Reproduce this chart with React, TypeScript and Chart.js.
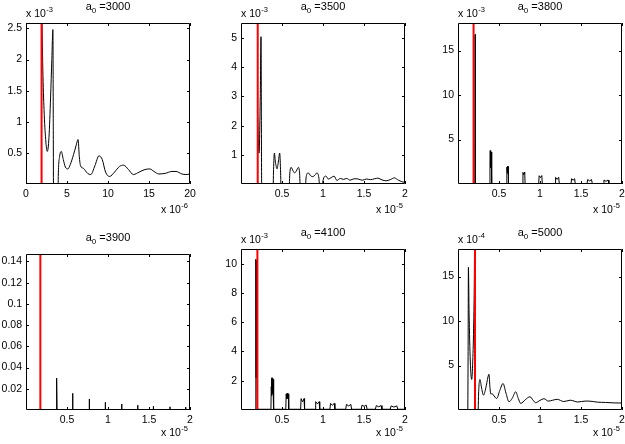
import React, { useEffect, useRef } from "react";
import { Chart, registerables } from "chart.js";

Chart.register(...registerables);

const FONT = "'Liberation Sans', Arial, Helvetica, sans-serif";
const W = 625;
const H = 444;

// ---------- tick values / labels ----------
const xTicks20 = [0, 5, 10, 15, 20];
const xLabels20 = ["0", "5", "10", "15", "20"];
const xTicks2 = [0.5, 1, 1.5, 2];
const xLabels2 = ["0.5", "1", "1.5", "2"];

const p1YTicks = [0.5, 1, 1.5, 2, 2.5];
const p1YLabels = ["0.5", "1", "1.5", "2", "2.5"];
const p2YTicks = [1, 2, 3, 4, 5];
const p2YLabels = ["1", "2", "3", "4", "5"];
const p3YTicks = [5, 10, 15];
const p3YLabels = ["5", "10", "15"];
const p4YTicks = [0.02, 0.04, 0.06, 0.08, 0.1, 0.12, 0.14];
const p4YLabels = ["0.02", "0.04", "0.06", "0.08", "0.1", "0.12", "0.14"];
const p5YTicks = [2, 4, 6, 8, 10];
const p5YLabels = ["2", "4", "6", "8", "10"];
const p6YTicks = [5, 10, 15];
const p6YLabels = ["5", "10", "15"];

// ---------- titles (a0 values) ----------
const a0Values = ["3000", "3500", "3800", "3900", "4100", "5000"];
// red marker position per panel (in displayed x units)
const redX = [1.9, 0.204, 0.19, 0.175, 0.2, 0.207];

// ---------- series ----------
// a0 = 3000 (x ×1e-6, y ×1e-3)
const p1X = [
  1.9, 2.05, 2.2, 2.4, 2.6, 2.8, 3.0, 3.15, 3.28, 3.33,
  3.36, 3.85, 3.95, 4.1, 4.3, 4.55, 4.8, 5.1, 5.4, 5.8,
  6.1, 6.35, 6.5, 6.65, 7.0, 7.5, 7.9, 8.4, 8.9, 9.3,
  9.7, 10.2, 10.8, 11.4, 11.9, 12.5, 13.1, 13.8, 14.5, 15.1,
  15.6, 16.2, 17.0, 17.8, 18.3, 19.0, 19.5, 20,
];
const p1Y = [
  3.0, 1.85, 1.2, 0.72, 0.53, 0.75, 1.4, 2.0, 2.48, 0.8,
  -0.5, -0.5, 0.2, 0.45, 0.53, 0.4, 0.28, 0.25, 0.32, 0.48,
  0.62, 0.72, 0.45, 0.3, 0.26, 0.18, 0.16, 0.3, 0.46, 0.4,
  0.2, 0.13, 0.2, 0.29, 0.31, 0.24, 0.16, 0.2, 0.24, 0.25,
  0.21, 0.17, 0.18, 0.21, 0.21, 0.17, 0.16, 0.17,
];

// a0 = 3500 (x ×1e-5, y ×1e-3)
const p2X = [
  0.2, 0.22, 0.235, 0.244, 0.252, 0.26, 0.39, 0.397, 0.407, 0.42,
  0.44, 0.455, 0.472, 0.482, 0.49, 0.585, 0.595, 0.612, 0.635, 0.655,
  0.675, 0.7, 0.715, 0.725, 0.78, 0.795, 0.82, 0.85, 0.875, 0.9,
  0.925, 0.95, 0.965, 0.985, 1.0, 1.035, 1.065, 1.1, 1.135, 1.17,
  1.21, 1.25, 1.29, 1.33, 1.38, 1.43, 1.48, 1.53, 1.58, 1.63,
  1.67, 1.72, 1.77, 1.82, 1.87, 1.92, 1.96, 2.0,
];
const p2Y = [
  2.5, 1.06, 3.0, 5.05, 0.0, -0.3, -0.3, 0.5, 1.06, 0.75,
  0.52, 0.75, 1.06, 0.5, -0.3, -0.3, 0.35, 0.57, 0.45, 0.38,
  0.45, 0.57, 0.35, -0.3, -0.3, 0.25, 0.38, 0.28, 0.25, 0.3,
  0.38, 0.2, -0.3, -0.2, 0.12, 0.27, 0.17, 0.22, 0.27, 0.12,
  0.19, 0.16, 0.19, 0.13, 0.18, 0.17, 0.13, 0.17, 0.15, 0.18,
  0.2, 0.14, 0.11, 0.15, 0.21, 0.13, 0.08, 0.05,
];

// a0 = 3800 (x ×1e-5, y ×1e-3)
const p3X = [
  0.19, 0.205, 0.209, 0.211, 0.212, 0.213, 0.214, 0.216,
  0.385, 0.39, 0.393, 0.396, 0.399, 0.402, 0.405, 0.408, 0.411, 0.414,
  0.592, 0.596, 0.6, 0.604, 0.608, 0.612, 0.616,
  0.788, 0.792, 0.803, 0.814, 0.818,
  0.984, 0.99, 1.006, 1.022, 1.028,
  1.183, 1.19, 1.209, 1.228, 1.235,
  1.378, 1.386, 1.404, 1.422, 1.43,
  1.573, 1.582, 1.605, 1.628, 1.638,
  1.77, 1.78, 1.805, 1.83, 1.84,
  2.0,
];
const p3Y = [
  -0.5, 0.05, 16.8, 11.3, 14.7, 11.5, 14.5, 0.05,
  0.05, 2.5, 3.76, 1.8, 3.7, 1.9, 3.6, 2.0, 3.4, 0.05,
  0.05, 1.9, 1.3, 2.0, 1.2, 1.95, 0.05,
  0.05, 1.3, 1.05, 1.35, 0.05,
  0.05, 0.93, 0.72, 0.95, 0.05,
  0.05, 0.75, 0.52, 0.75, 0.05,
  0.05, 0.6, 0.42, 0.6, 0.05,
  0.05, 0.5, 0.34, 0.5, 0.05,
  0.05, 0.45, 0.3, 0.45, 0.05,
  0.05,
];

// a0 = 3900 (x ×1e-5, y plain)
const p4X = [
  0.3, 0.368, 0.371, 0.376, 0.379,
  0.567, 0.569, 0.571,
  0.77, 0.772, 0.774,
  0.965, 0.967, 0.969,
  1.165, 1.167, 1.169,
  1.36, 1.362, 1.364,
  1.551, 1.553, 1.555,
  1.754, 1.756, 1.758,
  1.945, 1.947, 1.949,
  2.0,
];
const p4Y = [
  0.0003, 0.0003, 0.0301, 0.0298, 0.0003,
  0.0003, 0.0157, 0.0003,
  0.0003, 0.0104, 0.0003,
  0.0003, 0.0072, 0.0003,
  0.0003, 0.0056, 0.0003,
  0.0003, 0.0045, 0.0003,
  0.0003, 0.0037, 0.0003,
  0.0003, 0.003, 0.0003,
  0.0003, 0.0027, 0.0003,
  0.0003,
];

// a0 = 4100 (x ×1e-5, y ×1e-3)
const p5X = [
  0.17, 0.179, 0.181, 0.183, 0.185, 0.187, 0.189, 0.191, 0.193, 0.196, 0.2,
  0.365, 0.369, 0.372, 0.376, 0.38, 0.384, 0.388, 0.392, 0.396, 0.4,
  0.546, 0.551, 0.558, 0.564, 0.57, 0.577, 0.582,
  0.727, 0.733, 0.751, 0.769, 0.775,
  0.904, 0.911, 0.932, 0.953, 0.96,
  1.084, 1.092, 1.114, 1.137, 1.145,
  1.277, 1.286, 1.313, 1.34, 1.349,
  1.466, 1.476, 1.502, 1.528, 1.538,
  1.639, 1.65, 1.679, 1.708, 1.719,
  1.819, 1.831, 1.865, 1.9, 1.912,
  2.0,
];
const p5Y = [
  -0.5, 0.05, 10.3, 2.2, 10.2, 2.3, 10.0, 2.5, 9.5, 3.0, 0.05,
  0.05, 1.6, 2.2, 1.0, 2.15, 1.1, 2.2, 1.2, 2.1, 0.05,
  0.05, 1.1, 0.75, 1.15, 0.8, 1.1, 0.05,
  0.05, 0.78, 0.55, 0.78, 0.05,
  0.05, 0.57, 0.42, 0.57, 0.05,
  0.05, 0.45, 0.33, 0.45, 0.05,
  0.05, 0.38, 0.28, 0.38, 0.05,
  0.05, 0.33, 0.25, 0.33, 0.05,
  0.05, 0.3, 0.22, 0.3, 0.05,
  0.05, 0.28, 0.2, 0.28, 0.05,
  0.05,
];

// a0 = 5000 (x ×1e-5, y ×1e-4)
const p6X = [
  0.118, 0.123, 0.127, 0.135, 0.15, 0.167, 0.18, 0.192, 0.2, 0.207,
  0.212, 0.24, 0.25, 0.268, 0.285, 0.31, 0.34, 0.365, 0.378, 0.39,
  0.4, 0.415, 0.43, 0.472, 0.51, 0.549, 0.585, 0.622, 0.66, 0.704,
  0.735, 0.765, 0.82, 0.878, 0.915, 0.947, 1.0, 1.05, 1.1, 1.155,
  1.21, 1.29, 1.37, 1.46, 1.55, 1.6, 1.7, 1.8, 1.9, 2.0,
];
const p6Y = [
  -3, 6, 16.05, 11, 5.5, 3.43, 5.5, 10, 16, 30,
  -5, -3, 1.5, 3.43, 2.6, 1.67, 2.5, 3.7, 4.02, 2.5,
  1.8, 1.85, 1.7, 1.3, 2.2, 2.98, 1.9, 0.93, 1.3, 2.05,
  1.3, 0.74, 1.15, 1.49, 1.1, 0.82, 1.08, 1.27, 1.0, 1.1,
  1.2, 0.95, 1.1, 0.9, 1.0, 1.0, 0.88, 0.85, 0.8, 0.78,
];

type PanelCfg = {
  title: string;
  xs: number[];
  ys: number[];
  red: number;
  xRange: [number, number];
  yRange: [number, number];
  xTicks: number[];
  xLabels: string[];
  yTicks: number[];
  yLabels: string[];
  yExp: string | null;
  xExp: string;
  xExpDy: number;
  box: [number, number, number, number]; // left, top, right, bottom
  smooth: boolean;
};

const PANELS: PanelCfg[] = [
  { title: a0Values[0], xs: p1X, ys: p1Y, red: redX[0], xRange: [0, 20], yRange: [0.009, 2.585], xTicks: xTicks20, xLabels: xLabels20, yTicks: p1YTicks, yLabels: p1YLabels, yExp: "-3", xExp: "-6", xExpDy: 29, box: [26, 23, 190, 184], smooth: true },
  { title: a0Values[1], xs: p2X, ys: p2Y, red: redX[1], xRange: [0, 2], yRange: [0, 5.52], xTicks: xTicks2, xLabels: xLabels2, yTicks: p2YTicks, yLabels: p2YLabels, yExp: "-3", xExp: "-5", xExpDy: 29, box: [241, 23, 405, 184], smooth: true },
  { title: a0Values[2], xs: p3X, ys: p3Y, red: redX[2], xRange: [0, 2], yRange: [0, 18.1], xTicks: xTicks2, xLabels: xLabels2, yTicks: p3YTicks, yLabels: p3YLabels, yExp: "-3", xExp: "-5", xExpDy: 29, box: [458, 23, 622, 184], smooth: false },
  { title: a0Values[3], xs: p4X, ys: p4Y, red: redX[3], xRange: [0, 2], yRange: [0, 0.147], xTicks: xTicks2, xLabels: xLabels2, yTicks: p4YTicks, yLabels: p4YLabels, yExp: null, xExp: "-5", xExpDy: 26, box: [26, 254, 190, 410], smooth: false },
  { title: a0Values[4], xs: p5X, ys: p5Y, red: redX[4], xRange: [0, 2], yRange: [0, 11], xTicks: xTicks2, xLabels: xLabels2, yTicks: p5YTicks, yLabels: p5YLabels, yExp: "-3", xExp: "-5", xExpDy: 26, box: [241, 249, 405, 410], smooth: false },
  { title: a0Values[5], xs: p6X, ys: p6Y, red: redX[5], xRange: [0, 2], yRange: [0, 18.1], xTicks: xTicks2, xLabels: xLabels2, yTicks: p6YTicks, yLabels: p6YLabels, yExp: "-4", xExp: "-5", xExpDy: 26, box: [458, 249, 622, 410], smooth: true },
];

const decorPlugin = {
  id: "matlabDecor",
  afterDraw(chart: any, _args: any, o: any) {
    const { ctx, chartArea: a, scales } = chart;
    const xs = scales.x;
    const ys = scales.y;
    ctx.save();
    ctx.strokeStyle = "#000";
    ctx.lineWidth = 1;
    ctx.beginPath();
    ctx.rect(a.left + 0.5, a.top + 0.5, a.right - a.left - 1, a.bottom - a.top - 1);
    ctx.stroke();
    const tl = 3;
    ctx.beginPath();
    for (const t of xs.ticks) {
      const p = Math.round(xs.getPixelForValue(t.value)) + 0.5;
      ctx.moveTo(p, a.bottom);
      ctx.lineTo(p, a.bottom - tl);
      ctx.moveTo(p, a.top);
      ctx.lineTo(p, a.top + tl);
    }
    for (const t of ys.ticks) {
      const p = Math.round(ys.getPixelForValue(t.value)) + 0.5;
      ctx.moveTo(a.left, p);
      ctx.lineTo(a.left + tl, p);
      ctx.moveTo(a.right, p);
      ctx.lineTo(a.right - tl, p);
    }
    ctx.stroke();

    // title: a_0 =NNNN
    ctx.fillStyle = "#000";
    ctx.textBaseline = "alphabetic";
    ctx.textAlign = "left";
    const big = `11px ${FONT}`;
    const small = `8px ${FONT}`;
    const rest = " =" + o.title;
    ctx.font = big;
    const wa = ctx.measureText("a").width;
    const wr = ctx.measureText(rest).width;
    ctx.font = small;
    const ws = ctx.measureText("0").width;
    let x = (a.left + a.right) / 2 - (wa + ws + wr) / 2;
    const ty = a.top - 13;
    ctx.font = big;
    ctx.fillText("a", x, ty);
    x += wa;
    ctx.font = small;
    ctx.fillText("0", x, ty + 3);
    x += ws;
    ctx.font = big;
    ctx.fillText(rest, x, ty);

    // exponent labels
    const ef = `10.5px ${FONT}`;
    const sf = `7.5px ${FONT}`;
    if (o.yExp) {
      ctx.font = ef;
      const w1 = ctx.measureText("x 10").width;
      ctx.fillText("x 10", a.left, a.top - 6);
      ctx.font = sf;
      ctx.fillText(o.yExp, a.left + w1 + 0.5, a.top - 11);
    }
    if (o.xExp) {
      ctx.font = ef;
      const w1 = ctx.measureText("x 10").width;
      ctx.font = sf;
      const w2 = ctx.measureText(o.xExp).width;
      const x0 = a.right - 2 - w1 - w2 - 0.5;
      const by = a.bottom + o.xExpDy;
      ctx.font = ef;
      ctx.fillText("x 10", x0, by);
      ctx.font = sf;
      ctx.fillText(o.xExp, x0 + w1 + 0.5, by - 5);
    }
    ctx.restore();
  },
};

function axis(isX: boolean, range: [number, number], ticks: number[], labels: string[], size: number) {
  return {
    type: "linear",
    min: range[0],
    max: range[1],
    bounds: "data",
    afterFit: (s: any) => {
      if (isX) s.height = size;
      else s.width = size;
      s.paddingLeft = 0;
      s.paddingRight = 0;
      s.paddingTop = 0;
      s.paddingBottom = 0;
    },
    afterBuildTicks: (s: any) => {
      s.ticks = ticks.map((v) => ({ value: v }));
    },
    grid: { display: false, drawTicks: false },
    border: { display: false },
    ticks: {
      color: "#000",
      font: { family: FONT, size: 10.5 },
      padding: 4,
      autoSkip: false,
      maxRotation: 0,
      minRotation: 0,
      callback: (v: number) => {
        const i = ticks.findIndex((t) => Math.abs(t - v) < 1e-9);
        return i >= 0 ? labels[i] : "";
      },
    },
  };
}

function Panel({ cfg }: { cfg: PanelCfg }) {
  const ref = useRef<HTMLCanvasElement>(null);
  useEffect(() => {
    const [L, T, R, B] = cfg.box;
    const chart = new Chart(ref.current as HTMLCanvasElement, {
      type: "line",
      data: {
        datasets: [
          {
            data: [
              { x: cfg.red, y: cfg.yRange[0] },
              { x: cfg.red, y: cfg.yRange[1] },
            ],
            borderColor: "#ff0000",
            borderWidth: 2,
            pointRadius: 0,
            tension: 0,
          },
          {
            data: cfg.xs.map((x, i) => ({ x, y: cfg.ys[i] })),
            borderColor: "#000000",
            borderWidth: 1,
            pointRadius: 0,
            tension: 0,
            cubicInterpolationMode: cfg.smooth ? "monotone" : "default",
          },
        ],
      } as any,
      options: {
        animation: false,
        responsive: false,
        devicePixelRatio: 1,
        events: [],
        layout: { padding: { left: 0, top: T, right: W - R, bottom: 0 } },
        plugins: {
          legend: { display: false },
          tooltip: { enabled: false },
          title: { display: false },
          matlabDecor: { title: cfg.title, yExp: cfg.yExp, xExp: cfg.xExp, xExpDy: cfg.xExpDy },
        } as any,
        scales: {
          x: axis(true, cfg.xRange, cfg.xTicks, cfg.xLabels, H - B),
          y: axis(false, cfg.yRange, cfg.yTicks, cfg.yLabels, L),
        } as any,
      },
      plugins: [decorPlugin],
    });
    return () => chart.destroy();
  }, [cfg]);
  return (
    <canvas
      ref={ref}
      width={W}
      height={H}
      style={{ position: "absolute", left: 0, top: 0, width: W, height: H }}
    />
  );
}

export default function App() {
  return (
    <div
      style={{
        position: "absolute",
        left: 0,
        top: 0,
        width: W,
        height: H,
        background: "#fff",
        overflow: "hidden",
      }}
    >
      {PANELS.map((p, i) => (
        <Panel key={i} cfg={p} />
      ))}
    </div>
  );
}
